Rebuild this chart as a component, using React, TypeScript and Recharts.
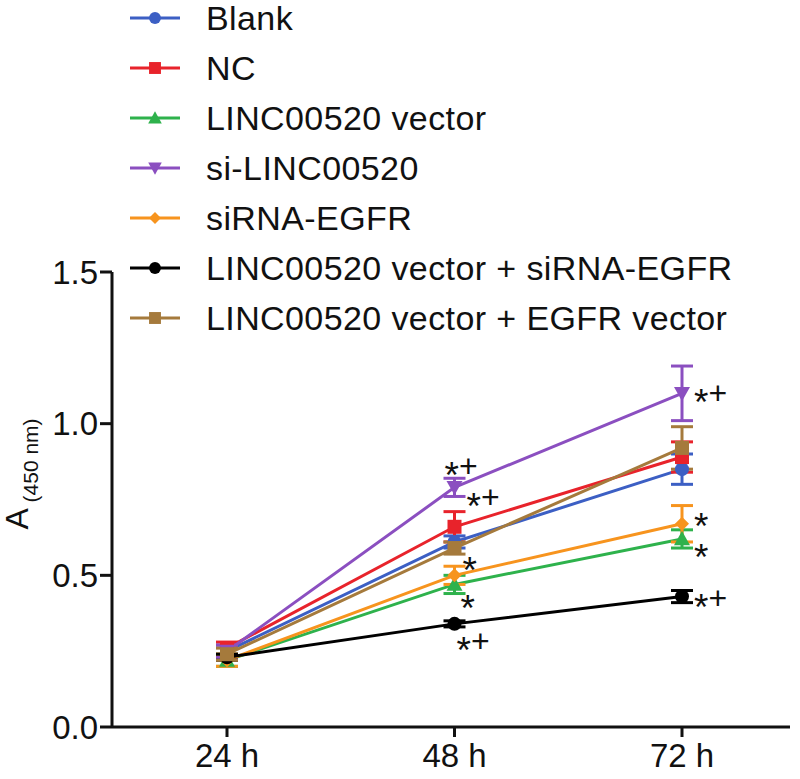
import React from "react";
import {
  LineChart, Line, XAxis, YAxis, ErrorBar, Legend, LabelList,
} from "recharts";

// time points
const times = ["24 h", "48 h", "72 h"];

// mean absorbance per group
const blank = [0.25, 0.61, 0.85];
const nc = [0.26, 0.66, 0.89];
const lincVector = [0.22, 0.47, 0.62];
const siLinc = [0.25, 0.79, 1.1];
const siEgfr = [0.22, 0.5, 0.67];
const vecSiEgfr = [0.23, 0.34, 0.43];
const vecEgfrVec = [0.24, 0.59, 0.92];

// SD
const blankErr = [0.02, 0.02, 0.05];
const ncErr = [0.02, 0.05, 0.05];
const lincVectorErr = [0.02, 0.03, 0.03];
const siLincErr = [0.02, 0.03, 0.09];
const siEgfrErr = [0.02, 0.03, 0.06];
const vecSiEgfrErr = [0.01, 0.01, 0.02];
const vecEgfrVecErr = [0.02, 0.02, 0.07];

// significance marks
const blankNotes = ["", "", ""];
const ncNotes = ["", "*+", ""];
const lincVectorNotes = ["", "*", "*"];
const siLincNotes = ["", "*+", "*+"];
const siEgfrNotes = ["", "", "*"];
const vecSiEgfrNotes = ["", "*+", "*+"];
const vecEgfrVecNotes = ["", "*", ""];

const yTicks = [0, 0.5, 1.0, 1.5];

const FONT = "'Liberation Sans', Arial, sans-serif";

type Shape = "circle" | "square" | "triangle" | "down" | "diamond";

const series = [
  { key: "blank", name: "Blank", color: "#3c5fc4", shape: "circle" as Shape, values: blank, err: blankErr, notes: blankNotes, noteOff: [[0, 0], [0, 0], [0, 0]] },
  { key: "nc", name: "NC", color: "#e8232b", shape: "square" as Shape, values: nc, err: ncErr, notes: ncNotes, noteOff: [[0, 0], [12, -30], [0, 0]] },
  { key: "lincVector", name: "LINC00520 vector", color: "#2eb24c", shape: "triangle" as Shape, values: lincVector, err: lincVectorErr, notes: lincVectorNotes, noteOff: [[0, 0], [6, 15], [12, 9]] },
  { key: "siLinc", name: "si-LINC00520", color: "#8b4fc0", shape: "down" as Shape, values: siLinc, err: siLincErr, notes: siLincNotes, noteOff: [[0, 0], [-10, -21], [12, 0]] },
  { key: "siEgfr", name: "siRNA-EGFR", color: "#f7941e", shape: "diamond" as Shape, values: siEgfr, err: siEgfrErr, notes: siEgfrNotes, noteOff: [[0, 0], [0, 0], [12, -7]] },
  { key: "vecSiEgfr", name: "LINC00520 vector + siRNA-EGFR", color: "#000000", shape: "circle" as Shape, values: vecSiEgfr, err: vecSiEgfrErr, notes: vecSiEgfrNotes, noteOff: [[0, 0], [2, 17], [12, 1]] },
  { key: "vecEgfrVec", name: "LINC00520 vector + EGFR vector", color: "#a57a3c", shape: "square" as Shape, values: vecEgfrVec, err: vecEgfrVecErr, notes: vecEgfrVecNotes, noteOff: [[0, 0], [8, 13], [0, 0]] },
];

const data = times.map((t, i) => {
  const row: Record<string, any> = { t };
  series.forEach((s) => {
    row[s.key] = s.values[i];
    row[s.key + "Err"] = s.err[i];
    row[s.key + "Note"] = s.notes[i];
  });
  return row;
});

function Marker({ cx, cy, shape, color, small }: { cx: number; cy: number; shape: Shape; color: string; small?: boolean }) {
  const k = small ? 0.85 : 1;
  if (shape === "circle") return <circle cx={cx} cy={cy} r={7 * k} fill={color} />;
  if (shape === "square") {
    const h = 7 * k;
    return <rect x={cx - h} y={cy - h} width={2 * h} height={2 * h} fill={color} />;
  }
  if (shape === "triangle") {
    const h = 8 * k;
    return <polygon points={`${cx},${cy - h} ${cx + h},${cy + h * 0.8} ${cx - h},${cy + h * 0.8}`} fill={color} />;
  }
  if (shape === "down") {
    const h = 8 * k;
    return <polygon points={`${cx},${cy + h} ${cx + h},${cy - h * 0.8} ${cx - h},${cy - h * 0.8}`} fill={color} />;
  }
  const h = 7 * k;
  return <polygon points={`${cx},${cy - h} ${cx + h},${cy} ${cx},${cy + h} ${cx - h},${cy}`} fill={color} />;
}

function Note({ text, x, y }: { text: string; x: number; y: number }) {
  if (!text) return null;
  return (
    <text x={x} y={y} fontFamily={FONT} fill="#111" dominantBaseline="central">
      <tspan fontSize={37} dy={9}>*</tspan>
      {text.includes("+") && <tspan fontSize={32} dy={-9}>+</tspan>}
    </text>
  );
}

function renderLegend() {
  return (
    <div style={{ fontFamily: FONT, fontSize: 34, color: "#111" }}>
      {series.map((s) => (
        <div key={s.key} style={{ height: 50, display: "flex", alignItems: "center" }}>
          <svg width={76} height={20} style={{ flex: "none" }}>
            <line x1={0} x2={50} y1={10} y2={10} stroke={s.color} strokeWidth={3} />
            <Marker cx={25} cy={10} shape={s.shape} color={s.color} small />
          </svg>
          <span style={{ whiteSpace: "nowrap", letterSpacing: 0.4 }}>{s.name}</span>
        </div>
      ))}
    </div>
  );
}

function YLabel() {
  return (
    <text transform="translate(28, 474) rotate(-90)" textAnchor="middle" fontFamily={FONT} fill="#111">
      <tspan fontSize={32}>A</tspan>
      <tspan fontSize={21} dy={10}> (450 nm)</tspan>
    </text>
  );
}

export default function App() {
  return (
    <div style={{ position: "absolute", left: 0, top: 0, background: "#fff" }}>
      <LineChart width={800} height={779} data={data} margin={{ top: 272, right: 10, bottom: 0, left: 0 }}>
        <XAxis
          dataKey="t"
          type="category"
          scale="point"
          padding={{ left: 115, right: 108 }}
          height={52}
          axisLine={{ stroke: "#111", strokeWidth: 3 }}
          tickLine={{ stroke: "#111", strokeWidth: 3 }}
          tickSize={10}
          tick={{ fill: "#111", fontSize: 33, fontFamily: FONT, dy: 5 }}
        />
        <YAxis
          domain={[0, 1.5]}
          ticks={yTicks}
          width={112}
          allowDataOverflow
          axisLine={{ stroke: "#111", strokeWidth: 3 }}
          tickLine={{ stroke: "#111", strokeWidth: 3 }}
          tickSize={12}
          tickFormatter={(v: number) => v.toFixed(1)}
          tick={{ fill: "#111", fontSize: 33, fontFamily: FONT }}
          label={<YLabel />}
        />
        <Legend
          layout="vertical"
          align="center"
          verticalAlign="middle"
          content={renderLegend}
          wrapperStyle={{ position: "absolute", top: -7, left: 130, width: 660 }}
        />
        {series.map((s) => (
          <Line
            key={s.key}
            dataKey={s.key}
            name={s.name}
            stroke={s.color}
            strokeWidth={3}
            isAnimationActive={false}
            dot={(p: any) => <Marker key={p.index} cx={p.cx} cy={p.cy} shape={s.shape} color={s.color} />}
            activeDot={false}
          >
            <ErrorBar dataKey={s.key + "Err"} width={11} stroke={s.color} strokeWidth={3} direction="y" />
            <LabelList
              dataKey={s.key + "Note"}
              content={(p: any) => {
                const off = s.noteOff[p.index] || [0, 0];
                return <Note key={p.index} text={p.value} x={p.x + off[0]} y={p.y + off[1]} />;
              }}
            />
          </Line>
        ))}
      </LineChart>
    </div>
  );
}
